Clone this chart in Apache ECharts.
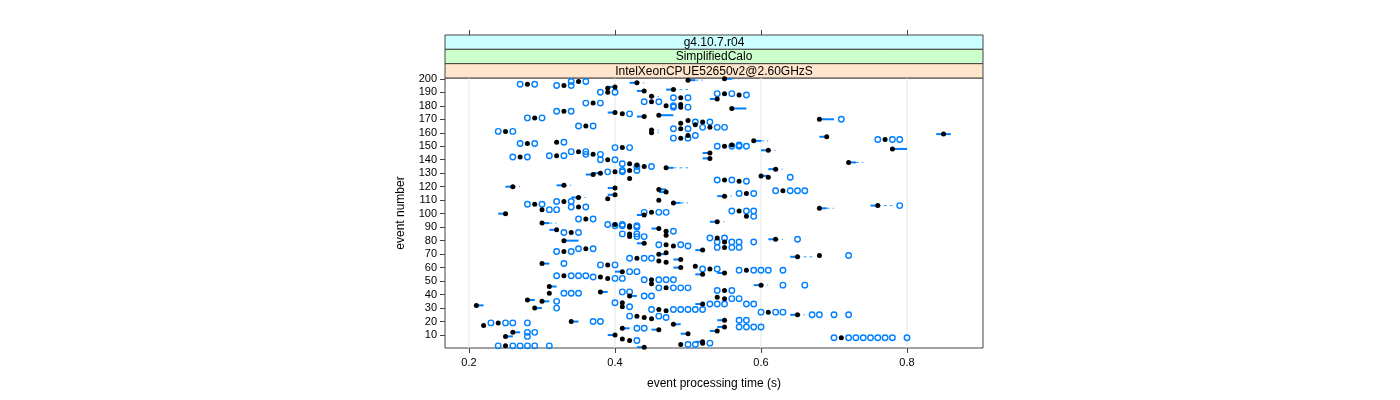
<!DOCTYPE html>
<html><head><meta charset="utf-8">
<script src="https://cdn.jsdelivr.net/npm/echarts@6/dist/echarts.min.js"></script>
<style>html,body{margin:0;padding:0;background:#fff}#c{width:1400px;height:400px}</style>
</head><body><div id="c"></div>
<script>
// ---------- data ----------
const stripLabels = ['g4.10.7.r04', 'SimplifiedCalo', 'IntelXeonCPUE52650v2@2.60GHzS'];
const xTicks = [0.2, 0.4, 0.6, 0.8];
const yTicks = [10,20,30,40,50,60,70,80,90,100,110,120,130,140,150,160,170,180,190,200];

const events = [
 200,199,198,197,196,195,194,193,192,191,
 190,189,188,187,186,185,183,182,181,180,
 179,178,176,175,174,173,172,171,170,169,
 168,167,166,165,164,163,162,161,160,159,
 158,157,156,155,154,153,152,151,150,149,
 148,147,146,145,144,143,142,141,140,138,
 137,136,135,134,133,132,131,130,129,128,
 127,126,125,124,121,120,119,118,117,116,
 115,114,113,112,111,110,109,108,107,106,
 105,104,103,102,101,100,99,98,96,94,
 93,92,91,90,89,88,87,86,85,84,
 83,82,81,80,79,78,77,76,75,74,
 73,72,71,70,69,68,67,66,65,64,
 63,62,61,60,59,58,57,56,55,54,
 53,52,51,48,47,46,45,43,42,41,
 39,38,37,36,35,34,33,32,31,30,
 29,28,27,25,24,23,22,21,20,19,
 18,17,16,15,14,13,12,11,10,9,
 8,7,6,5,4,3,2,1];

const medians = [
 .55,.50,.35,.43,.28,.33,.40,.39,.48,.44,
 .39,.55,.57,.45,.49,.54,.45,.37,.49,.47,
 .49,.56,.33,.40,.41,.46,.44,.29,.68,.50,
 .52,.49,.51,.36,.53,.49,.45,.25,.45,.85,
 .50,.69,.49,.77,.59,.32,.28,.56,.55,.41,
 .78,.61,.35,.53,.37,.32,.27,.53,.39,.72,
 .42,.43,.44,.47,.62,.42,.40,.38,.37,.60,
 .61,.42,.55,.57,.33,.26,.40,.46,.63,.47,
 .58,.40,.55,.35,.39,.46,.33,.48,.29,.76,
 .35,.68,.30,.57,.45,.25,.44,.58,.36,.54,
 .30,.40,.42,.42,.46,.32,.47,.34,.42,.47,
 .42,.54,.62,.33,.55,.44,.47,.48,.55,.36,
 .52,.33,.47,.46,.68,.65,.43,.49,.46,.47,
 .30,.39,.51,.49,.53,.58,.41,.55,.52,.33,
 .38,.39,.45,.45,.60,.31,.47,.55,.38,.31,
 .42,.54,.55,.28,.30,.41,.52,.21,.41,.29,
 .46,.47,.61,.65,.43,.44,.45,.55,.34,.24,
 .48,.22,.55,.41,.46,.54,.26,.50,.40,.25,
 .71,.41,.42,.52,.52,.49,.25,.44];

const boxLow = [
 .55,.50,.35,.42,.28,.33,.39,.39,.47,.43,
 .39,.55,.57,.45,.49,.53,.45,.37,.49,.47,
 .49,.56,.33,.39,.41,.46,.43,.29,.68,.50,
 .52,.49,.51,.36,.53,.49,.45,.25,.45,.84,
 .50,.68,.49,.77,.59,.32,.28,.56,.55,.41,
 .78,.60,.35,.52,.37,.32,.27,.52,.39,.72,
 .42,.43,.44,.47,.61,.42,.40,.37,.36,.60,
 .61,.42,.55,.57,.32,.25,.39,.46,.63,.46,
 .58,.39,.54,.34,.39,.46,.33,.48,.29,.75,
 .35,.68,.30,.57,.45,.24,.43,.58,.36,.53,
 .30,.40,.42,.42,.45,.31,.47,.34,.42,.47,
 .42,.54,.61,.33,.55,.43,.47,.48,.55,.36,
 .51,.33,.47,.46,.68,.64,.43,.48,.46,.47,
 .30,.39,.51,.48,.53,.58,.40,.54,.51,.33,
 .38,.39,.45,.45,.59,.31,.47,.55,.38,.31,
 .42,.54,.55,.28,.30,.41,.51,.21,.41,.29,
 .46,.47,.61,.64,.43,.44,.45,.54,.34,.24,
 .48,.22,.54,.41,.45,.53,.26,.49,.39,.25,
 .71,.41,.42,.51,.52,.49,.25,.43];

const boxHigh = [
 .56,.51,.35,.43,.28,.33,.40,.39,.48,.44,
 .39,.55,.57,.45,.49,.54,.45,.37,.49,.47,
 .49,.58,.33,.40,.41,.48,.44,.29,.70,.50,
 .52,.49,.51,.36,.53,.49,.45,.25,.45,.86,
 .50,.69,.49,.77,.60,.32,.28,.56,.55,.41,
 .80,.61,.35,.53,.37,.32,.27,.53,.39,.73,
 .42,.43,.44,.48,.62,.42,.40,.38,.37,.61,
 .61,.42,.55,.57,.33,.26,.40,.47,.63,.47,
 .58,.40,.55,.35,.39,.46,.33,.49,.29,.76,
 .35,.69,.30,.57,.45,.25,.44,.58,.36,.54,
 .31,.40,.42,.42,.46,.32,.47,.34,.42,.47,
 .42,.54,.62,.35,.55,.44,.47,.48,.55,.36,
 .52,.33,.47,.47,.68,.65,.43,.49,.46,.47,
 .31,.39,.51,.49,.53,.58,.41,.55,.52,.33,
 .38,.39,.45,.45,.60,.32,.47,.55,.39,.31,
 .43,.54,.55,.29,.31,.41,.52,.22,.41,.30,
 .46,.47,.61,.65,.43,.44,.45,.55,.35,.24,
 .49,.22,.55,.42,.46,.54,.27,.50,.40,.26,
 .71,.41,.42,.52,.52,.49,.25,.44];

const whiskerHigh = [
 .57,.52,.35,.44,.28,.33,.40,.39,.50,.44,
 .39,.55,.57,.46,.49,.54,.45,.37,.49,.47,
 .49,.58,.33,.40,.41,.48,.44,.29,.70,.50,
 .52,.49,.51,.36,.53,.49,.46,.25,.46,.86,
 .50,.69,.49,.77,.61,.32,.28,.56,.55,.41,
 .80,.62,.35,.53,.37,.32,.27,.53,.39,.74,
 .42,.43,.44,.50,.63,.42,.40,.38,.37,.61,
 .61,.42,.55,.57,.34,.27,.40,.47,.63,.47,
 .58,.40,.56,.36,.39,.46,.33,.50,.29,.78,
 .35,.70,.30,.57,.45,.25,.44,.58,.36,.55,
 .32,.40,.42,.42,.46,.32,.47,.34,.42,.47,
 .42,.54,.63,.35,.55,.44,.47,.48,.55,.36,
 .52,.33,.47,.47,.68,.67,.43,.49,.46,.47,
 .31,.39,.51,.49,.53,.58,.41,.55,.52,.33,
 .38,.39,.45,.45,.61,.32,.47,.55,.39,.31,
 .43,.54,.55,.29,.31,.41,.52,.22,.41,.30,
 .46,.47,.61,.66,.43,.44,.45,.55,.35,.24,
 .49,.22,.55,.42,.46,.54,.27,.50,.40,.26,
 .71,.41,.42,.52,.52,.49,.25,.44];

const outliers = [
 [],[],[.34,.36],[],[.27,.29],[.32,.34],[],[],[],[],
 [.38,.40],[.54,.56],[.58],[],[.48,.50],[],[.44,.46],[.36,.38],[],[.48],
 [.48,.50],[],[.32,.34],[],[.42],[],[],[.28,.30],[.71],[],
 [.51,.53],[],[],[.35,.37],[.52,.54,.55],[.48,.50],[],[.24,.26],[],[],
 [.51],[],[.48,.50],[.76,.78,.79],[],[.33],[.27,.29],[.57],[.54,.56,.57,.58],[.40,.42],
 [],[],[.34,.36],[],[.36,.38],[.31,.33],[.26,.28],[],[.38,.40],[],
 [.41],[],[.43,.45],[],[],[.41,.43],[.39,.41],[],[],[],
 [.64],[],[.54,.56],[.58],[],[],[],[],[.62,.64,.65,.66],[],
 [.57,.59],[],[],[],[],[],[.32,.34],[],[.28,.30],[.79],
 [.34,.36],[],[.31,.32],[.56,.58,.59],[.44,.46,.47],[],[],[.59],[.35,.37],[],
 [],[.39,.41],[.40,.41,.43],[.43],[],[],[.48],[.33,.35],[.41,.43],[],
 [.43,.44],[.53,.55],[.65],[],[.54,.56,.57,.59],[],[.46,.49],[.50],[.54,.56,.57],[.35,.37],
 [],[.32,.34],[],[],[.72],[],[.42,.44,.45],[],[],[],
 [.33],[.38,.40],[],[],[.52,.54],[.57,.59,.60,.61,.63],[.42,.43],[],[],[.32,.34,.35,.36],
 [.37],[.40,.41],[.44,.46,.47,.48],[],[.63,.66],[],[.46,.48,.49,.50],[.54,.56],[.41,.42],[.33,.34,.35],
 [.44,.45],[],[.56,.57],[],[.32],[.40],[.53,.54,.55,.58,.59],[],[.42],[.32],
 [.45,.48,.49,.50,.51,.52],[],[.60,.62,.63],[.67,.68,.70,.72],[.42,.46],[.47],[],[.57,.58],[.37,.38],[.23,.25,.26,.28],
 [],[],[.57,.58,.59,.60],[.43,.44],[],[],[.28,.29],[],[],[.28],
 [.70,.72,.73,.74,.75,.76,.77,.78,.80],[],[.43],[],[.53],[.50,.51],[.24,.26,.27,.28,.29,.31],[]];

// ---------- layout / style ----------
const G = {left: 445, top: 78, width: 538, height: 270};
const X_MIN = 0.1671, X_MAX = 0.9041, Y_MIN = 0.4, Y_MAX = 200.6;
const BLUE = '#0080ff';
const FONT = 'Liberation Sans, Arial, Helvetica, sans-serif';
const STRIP_TOP = 35, STRIP_COLORS = ['#ccffff', '#ccffcc', '#ffe5cc'];

const boxData = events.map((e, i) => [boxLow[i], e, boxHigh[i], whiskerHigh[i]]);
const medData = events.map((e, i) => [medians[i], e]);
const outData = [];
events.forEach((e, i) => outliers[i].forEach(v => outData.push([v, e])));

const stripH = (G.top - STRIP_TOP) / stripLabels.length;
const graphics = [];
stripLabels.forEach((t, i) => {
  const y0 = STRIP_TOP + i * stripH;
  graphics.push({type: 'rect', silent: true, shape: {x: G.left, y: y0, width: G.width, height: stripH},
    style: {fill: STRIP_COLORS[i], stroke: '#444', lineWidth: 1}});
  graphics.push({type: 'text', silent: true, x: G.left + G.width / 2, y: y0 + stripH / 2 + 0.5,
    style: {text: t, fill: '#000', font: '12px ' + FONT, textAlign: 'center', textVerticalAlign: 'middle',
      align: 'center', verticalAlign: 'middle'}});
});

const chart = echarts.init(document.getElementById('c'), null, {renderer: 'canvas'});
chart.setOption({
  animation: false,
  backgroundColor: '#fff',
  grid: {left: G.left, top: G.top, width: G.width, height: G.height, show: true,
    borderColor: '#444', borderWidth: 1, backgroundColor: 'transparent', containLabel: false},
  xAxis: [{
    type: 'value', min: X_MIN, max: X_MAX, position: 'bottom',
    name: 'event processing time (s)', nameLocation: 'middle', nameGap: 30,
    nameTextStyle: {fontSize: 12, color: '#000', fontFamily: FONT},
    axisLine: {show: false},
    axisTick: {show: true, length: 5, customValues: xTicks, lineStyle: {color: '#444'}},
    axisLabel: {show: true, customValues: xTicks, margin: 9, fontSize: 11, color: '#000', fontFamily: FONT},
    splitLine: {show: false}
  }, {
    type: 'value', min: X_MIN, max: X_MAX, position: 'top', offset: G.top - STRIP_TOP,
    axisLine: {show: false},
    axisTick: {show: true, length: 5, customValues: xTicks, lineStyle: {color: '#444'}},
    axisLabel: {show: false, customValues: xTicks},
    splitLine: {show: false}
  }],
  yAxis: {
    type: 'value', min: Y_MIN, max: Y_MAX,
    name: 'event number', nameLocation: 'middle', nameGap: 38, nameRotate: 90,
    nameTextStyle: {fontSize: 12, color: '#000', fontFamily: FONT},
    axisLine: {show: false},
    axisTick: {show: true, length: 5, customValues: yTicks, lineStyle: {color: '#444'}},
    axisLabel: {show: true, customValues: yTicks, margin: 8, fontSize: 11, color: '#000', fontFamily: FONT},
    splitLine: {show: false}
  },
  graphic: graphics,
  series: [{
    type: 'custom', name: 'grid', silent: true, z: 1,
    data: xTicks.map(v => [v, Y_MIN]),
    encode: {x: 0, y: 1},
    renderItem: (params, api) => {
      const v = api.value(0);
      const p1 = api.coord([v, Y_MIN]), p2 = api.coord([v, Y_MAX]);
      return {type: 'line', shape: {x1: p1[0], y1: p1[1], x2: p2[0], y2: p2[1]},
        style: {stroke: '#e6e6e6', lineWidth: 1}};
    }
  }, {
    type: 'custom', name: 'box', silent: true, z: 2, clip: true,
    data: boxData,
    encode: {x: [0, 2, 3], y: 1},
    renderItem: (params, api) => {
      const y = api.value(1);
      const p0 = api.coord([api.value(0), y]);
      const p1 = api.coord([api.value(2), y]);
      const p2 = api.coord([api.value(3), y]);
      const ch = [];
      if (p1[0] - p0[0] > 0.5) ch.push({type: 'rect', shape: {x: p0[0], y: p0[1] - 1, width: p1[0] - p0[0], height: 2}, style: {fill: BLUE}});
      if (p2[0] - p1[0] > 0.5) ch.push({type: 'line', shape: {x1: p1[0], y1: p0[1], x2: p2[0], y2: p0[1]}, style: {stroke: BLUE, lineWidth: 1, lineDash: [3, 3], opacity: 0.8}});
      return {type: 'group', children: ch};
    }
  }, {
    type: 'scatter', name: 'outliers', silent: true, z: 3,
    data: outData, symbol: 'circle', symbolSize: 5.5,
    itemStyle: {color: 'rgba(0,0,0,0)', borderColor: BLUE, borderWidth: 1.4, opacity: 1}
  }, {
    type: 'scatter', name: 'median', silent: true, z: 4,
    data: medData, symbol: 'circle', symbolSize: 5,
    itemStyle: {color: '#000', opacity: 1}
  }]
});
</script>
</body></html>
